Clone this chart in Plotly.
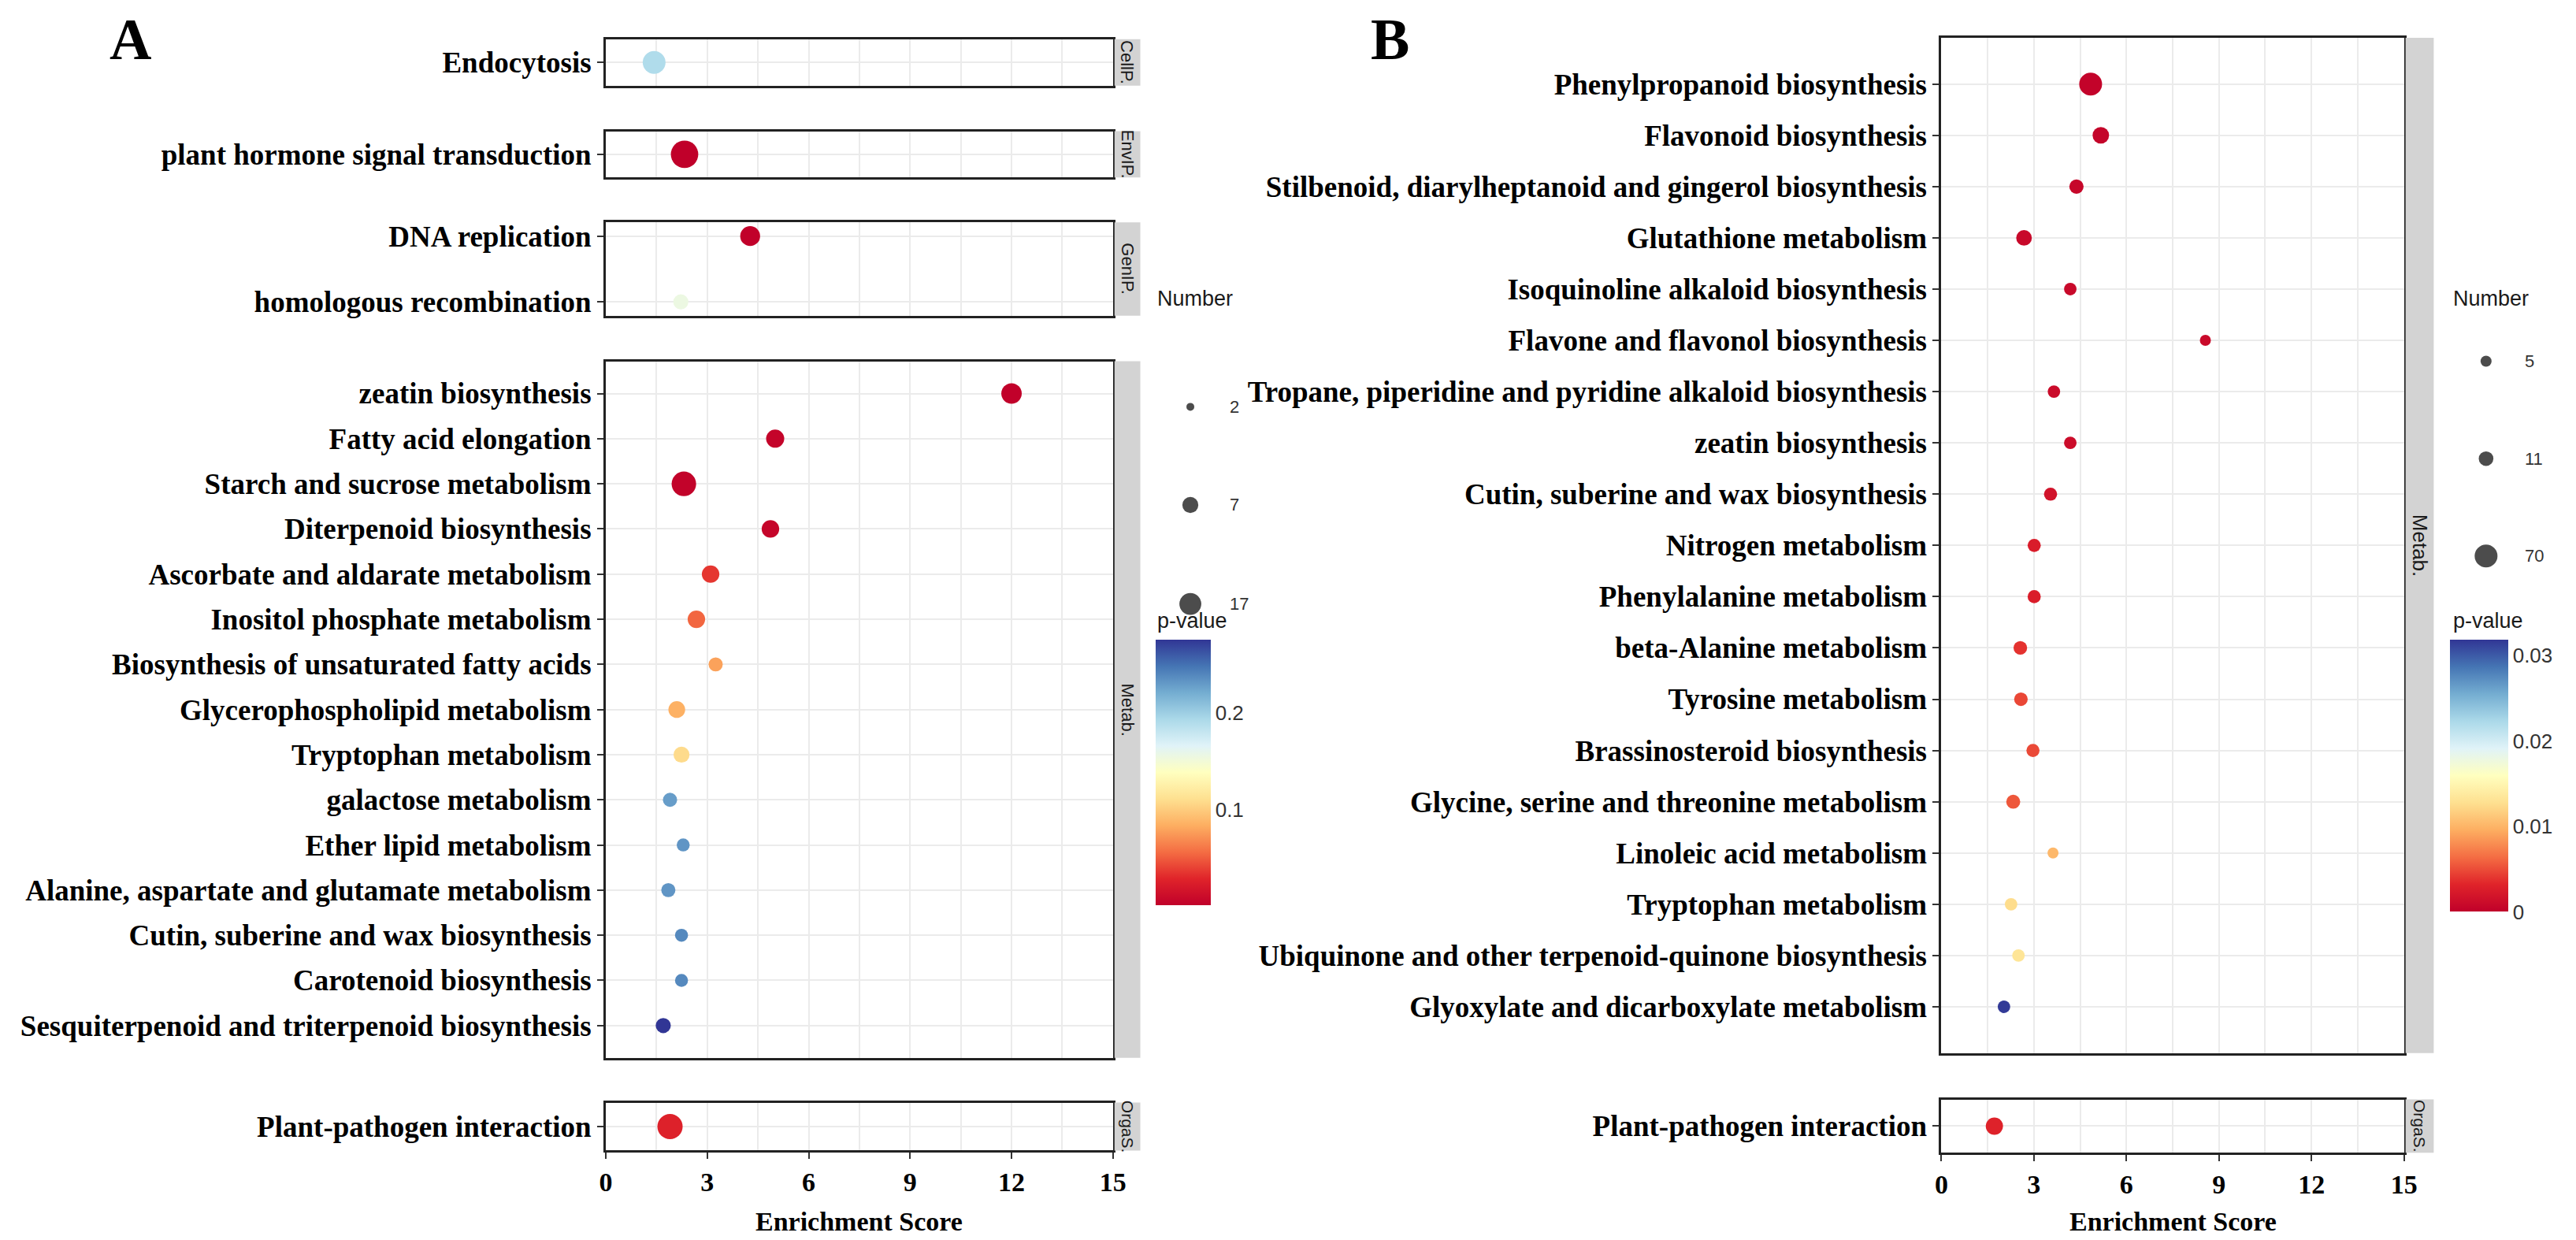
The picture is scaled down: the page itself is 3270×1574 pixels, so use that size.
import numpy as np
import plotly.graph_objects as go

# ---------------- DATA ----------------
# Panel A
A_terms = ["Endocytosis", "plant hormone signal transduction", "DNA replication",
           "homologous recombination", "zeatin biosynthesis", "Fatty acid elongation",
           "Starch and sucrose metabolism", "Diterpenoid biosynthesis",
           "Ascorbate and aldarate metabolism", "Inositol phosphate metabolism",
           "Biosynthesis of unsaturated fatty acids", "Glycerophospholipid metabolism",
           "Tryptophan metabolism", "galactose metabolism", "Ether lipid metabolism",
           "Alanine, aspartate and glutamate metabolism", "Cutin, suberine and wax biosynthesis",
           "Carotenoid biosynthesis", "Sesquiterpenoid and triterpenoid biosynthesis",
           "Plant-pathogen interaction"]
A_class = ["CellP.", "EnvIP.", "GenIP.", "GenIP.", "Metab.", "Metab.", "Metab.", "Metab.",
           "Metab.", "Metab.", "Metab.", "Metab.", "Metab.", "Metab.", "Metab.", "Metab.",
           "Metab.", "Metab.", "Metab.", "OrgaS."]
A_score = [1.43, 2.33, 4.27, 2.22, 12.0, 5.01, 2.31, 4.87, 3.10, 2.68, 3.25, 2.10, 2.24,
           1.90, 2.29, 1.85, 2.24, 2.24, 1.70, 1.90]
A_number = [19, 31, 13, 6, 14, 10, 23, 9, 9, 9, 5, 8, 7, 5, 4, 5, 4, 4, 6, 25]
A_pvalue = [0.19, 0.001, 0.002, 0.155, 0.002, 0.004, 0.003, 0.005, 0.035, 0.053, 0.078,
            0.085, 0.108, 0.228, 0.232, 0.232, 0.238, 0.238, 0.275, 0.026]
A_size_breaks = [2, 7, 17]
A_color_breaks = [0.1, 0.2]

# Panel B
B_terms = ["Phenylpropanoid biosynthesis", "Flavonoid biosynthesis",
           "Stilbenoid, diarylheptanoid and gingerol biosynthesis", "Glutathione metabolism",
           "Isoquinoline alkaloid biosynthesis", "Flavone and flavonol biosynthesis",
           "Tropane, piperidine and pyridine alkaloid biosynthesis", "zeatin biosynthesis",
           "Cutin, suberine and wax biosynthesis", "Nitrogen metabolism",
           "Phenylalanine metabolism", "beta-Alanine metabolism", "Tyrosine metabolism",
           "Brassinosteroid biosynthesis", "Glycine, serine and threonine metabolism",
           "Linoleic acid metabolism", "Tryptophan metabolism",
           "Ubiquinone and other terpenoid-quinone biosynthesis",
           "Glyoxylate and dicarboxylate metabolism", "Plant-pathogen interaction"]
B_class = ["Metab."] * 19 + ["OrgaS."]
B_score = [4.84, 5.17, 4.38, 2.68, 4.18, 8.56, 3.65, 4.18, 3.54, 3.01, 3.01, 2.56, 2.58,
           2.97, 2.33, 3.62, 2.26, 2.50, 2.03, 1.72]
B_number = [70, 19, 10, 15, 6, 5, 6, 6, 7, 7, 7, 8, 8, 7, 9, 5, 6, 6, 6, 23]
B_pvalue = [0.0003, 0.0004, 0.0006, 0.0008, 0.0008, 0.0009, 0.0010, 0.0011, 0.0017, 0.0025,
            0.0026, 0.0038, 0.0047, 0.0048, 0.0054, 0.0102, 0.0125, 0.0132, 0.0316, 0.0030]
B_size_breaks = [5, 11, 70]
B_color_breaks = [0, 0.01, 0.02, 0.03]

X_TICKS = [0, 3, 6, 9, 12, 15]

# ---------------- STYLE / LAYOUT CONSTANTS ----------------
W, H = 3270, 1574
SERIF = "Liberation Serif"
SANS = "Liberation Sans"
GRID = "#ebebeb"
BORDER = "#222222"
STRIP = "#d3d3d3"
CS = [[0.0, '#c0002a'], [0.1, '#e0242a'], [0.2, '#f46d43'], [0.3, '#fdae61'],
      [0.4, '#fee090'], [0.5, '#ffffbf'], [0.6, '#e0f3f8'], [0.7, '#abd9e9'],
      [0.8, '#74add1'], [0.9, '#4575b4'], [1.0, '#313695']]


def px(x):
    return x / W


def py(y):
    return 1 - y / H


def sizeA(n):
    return 10 + 4.6 * np.sqrt(n - min(A_size_breaks))


def sizeB(n):
    return 14 + 15 * np.sqrt((n - min(B_size_breaks)) / (max(B_size_breaks) - min(B_size_breaks)))


# panel geometry in pixels: (class, top, bottom, pad in row units, strip font size)
A_X = (758, 1407)
A_PANELS = [("CellP.", 40, 99, 0.5, 22), ("EnvIP.", 157, 216, 0.5, 22),
            ("GenIP.", 273, 392, 0.21, 22), ("Metab.", 450, 1337, 0.715, 22),
            ("OrgaS.", 1394, 1455, 0.5, 21)]
A_STRIP = (1409, 1442)
B_X = (2467, 3059)
B_PANELS = [("Metab.", 38, 1331, 0.904, 26), ("OrgaS.", 1390, 1458, 0.5, 21)]
B_STRIP = (3061, 3097)

fig = go.Figure()
shapes = []
annotations = []
axis_idx = [0]


def label(text, x, y, size, family=SANS, color="#1a1a1a", xanchor="center", angle=0,
          bold=False):
    annotations.append(dict(text=text, xref="paper", yref="paper", x=px(x), y=py(y),
                            xanchor=xanchor, yanchor="middle", textangle=angle,
                            showarrow=False,
                            font=dict(family=family, size=size, color=color,
                                      weight="bold" if bold else "normal")))


def add_panels(terms, classes, scores, numbers, pvals, xr, panels, strip, coloraxis, sizefn):
    last = len(panels) - 1
    for k, (cls, top, bot, pad, sfont) in enumerate(panels):
        axis_idx[0] += 1
        i = axis_idx[0]
        sfx = "" if i == 1 else str(i)
        sel = [j for j, c in enumerate(classes) if c == cls]
        t = [terms[j] for j in sel]
        fig.add_trace(go.Scatter(
            x=[scores[j] for j in sel], y=t, mode="markers",
            marker=dict(size=[sizefn(numbers[j]) for j in sel],
                        color=[pvals[j] for j in sel], coloraxis=coloraxis,
                        line=dict(width=0), opacity=1),
            xaxis="x" + sfx, yaxis="y" + sfx, showlegend=False, cliponaxis=False))
        bottom = (k == last)
        fig.update_layout({
            "xaxis" + sfx: dict(
                domain=[px(xr[0]), px(xr[1])], anchor="y" + sfx, range=[0, 15],
                tickvals=X_TICKS, showgrid=True, gridcolor=GRID, gridwidth=2,
                minor=dict(dtick=1.5, tick0=0, showgrid=True, gridcolor=GRID, gridwidth=1.5),
                showline=True, linecolor=BORDER, linewidth=3, mirror=True, zeroline=False,
                ticks="outside" if bottom else "", ticklen=8, tickwidth=2, tickcolor="#333",
                showticklabels=bottom,
                tickfont=dict(family=SERIF, size=34, color="black", weight="bold")),
            "yaxis" + sfx: dict(
                domain=[py(bot), py(top)], anchor="x" + sfx, type="category",
                categoryorder="array", categoryarray=t,
                range=[len(t) - 1 + pad, -pad], showgrid=True, gridcolor=GRID, gridwidth=2,
                showline=True, linecolor=BORDER, linewidth=3, mirror=True, zeroline=False,
                ticks="outside", ticklen=8, tickwidth=2, tickcolor="#333",
                tickfont=dict(family=SERIF, size=37, color="black", weight="bold")),
        })
        # strip
        shapes.append(dict(type="rect", xref="paper", yref="paper",
                           x0=px(strip[0]), x1=px(strip[1]), y0=py(bot), y1=py(top),
                           fillcolor=STRIP, line=dict(width=0), layer="above"))
        label(cls, (strip[0] + strip[1]) / 2, (top + bot) / 2, sfont, angle=90)
    # x axis title
    label("Enrichment Score", (xr[0] + xr[1]) / 2, 1545, 34, family=SERIF, color="black",
          bold=True)


add_panels(A_terms, A_class, A_score, A_number, A_pvalue, A_X, A_PANELS, A_STRIP,
           "coloraxis", sizeA)
add_panels(B_terms, B_class, B_score, B_number, B_pvalue, B_X, B_PANELS, B_STRIP,
           "coloraxis2", sizeB)

# ---------------- size legends (overlay axis in pixel units) ----------------
axis_idx[0] += 1
L = str(axis_idx[0])
fig.update_layout({
    "xaxis" + L: dict(domain=[0, 1], range=[0, W], visible=False, anchor="y" + L),
    "yaxis" + L: dict(domain=[0, 1], range=[H, 0], visible=False, anchor="x" + L),
})


def size_legend(breaks, sizefn, left, rows):
    fig.add_trace(go.Scatter(
        x=[left + 44] * len(breaks), y=rows, mode="markers",
        marker=dict(size=[sizefn(b) for b in breaks], color="black", line=dict(width=0)),
        xaxis="x" + L, yaxis="y" + L, showlegend=False, hoverinfo="skip"))
    label("Number", left, 370, 27, xanchor="left")
    for b, r in zip(breaks, rows):
        label(str(b), left + 92, r, 22, color="#333", xanchor="left")
    label("p-value", left, 780, 27, xanchor="left")


size_legend(A_size_breaks, sizeA, 1462, [508, 633, 759])
size_legend(B_size_breaks, sizeB, 3120, [450, 574, 698])

# ---------------- colour bars ----------------
fig.update_layout(
    coloraxis=dict(
        colorscale=CS, cmin=min(A_pvalue), cmax=max(A_pvalue),
        colorbar=dict(x=px(1462), xanchor="left", xpad=0, y=py(805), yanchor="top", ypad=0,
                      lenmode="pixels", len=337, thickness=70, outlinewidth=0,
                      tickvals=A_color_breaks, ticktext=[str(v) for v in A_color_breaks],
                      ticks="", tickfont=dict(family=SANS, size=26, color="#333"),
                      title=dict(text=""))),
    coloraxis2=dict(
        colorscale=CS, cmin=0, cmax=0.0318,
        colorbar=dict(x=px(3118), xanchor="left", xpad=0, y=py(805), yanchor="top", ypad=0,
                      lenmode="pixels", len=345, thickness=74, outlinewidth=0,
                      tickvals=B_color_breaks, ticktext=[str(v) for v in B_color_breaks],
                      ticks="", tickfont=dict(family=SANS, size=26, color="#333"),
                      title=dict(text=""))),
)

# panel letters
label("A", 150, 40, 74, family=SERIF, color="black", bold=True)
label("B", 1762, 40, 74, family=SERIF, color="black", bold=True)

fig.update_layout(width=W, height=H, margin=dict(l=0, r=0, t=0, b=0),
                  paper_bgcolor="white", plot_bgcolor="rgba(0,0,0,0)",
                  shapes=shapes, annotations=annotations, showlegend=False)

fig.write_html("out.html")
